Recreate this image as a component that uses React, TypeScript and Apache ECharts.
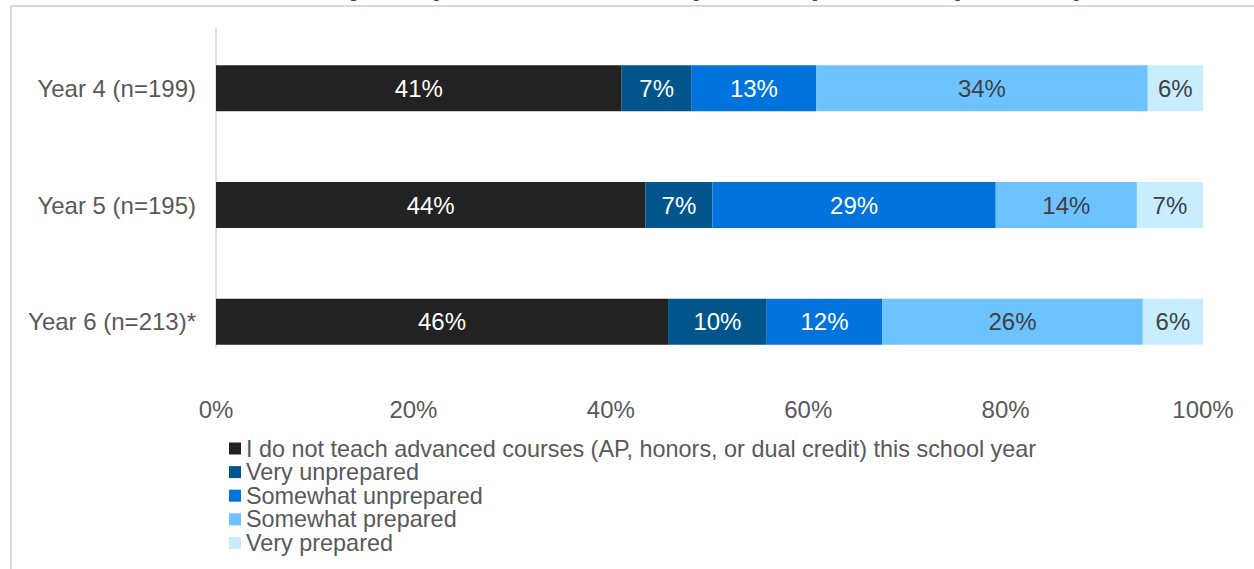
import React, { useEffect, useRef } from "react";
import * as echarts from "echarts";

const categories = ["Year 4 (n=199)", "Year 5 (n=195)", "Year 6 (n=213)*"];
const seriesNames = [
  "I do not teach advanced courses (AP, honors, or dual credit) this school year",
  "Very unprepared",
  "Somewhat unprepared",
  "Somewhat prepared",
  "Very prepared",
];
const notTeaching = [41.1, 43.5, 45.8];
const veryUnprepared = [7.1, 6.8, 10.0];
const somewhatUnprepared = [12.6, 28.7, 11.7];
const somewhatPrepared = [33.6, 14.3, 26.4];
const veryPrepared = [5.6, 6.7, 6.1];
const xTicks = [0, 20, 40, 60, 80, 100];
const titleText =
  "Preparedness to Teach Advanced Courses of All Survey Respondents, Year 4 (2020-21) - Year 6 (2022-23)";

const colors = ["#222222", "#00558c", "#0074dc", "#6cc3ff", "#c8edff"];
const labelColors = ["#ffffff", "#ffffff", "#ffffff", "#404040", "#404040"];
const FONT = "'Liberation Sans', Arial, sans-serif";
const FS = 24;

export default function App() {
  const ref = useRef<HTMLDivElement>(null);
  useEffect(() => {
    if (!ref.current) return;
    const chart = echarts.init(ref.current, undefined, { renderer: "svg" });
    const values = [notTeaching, veryUnprepared, somewhatUnprepared, somewhatPrepared, veryPrepared];
    chart.setOption({
      animation: false,
      textStyle: { fontFamily: FONT },
      grid: { left: 216, right: 51, top: 30, bottom: 189, containLabel: false },
      legend: {
        orient: "vertical",
        left: 229,
        top: 437,
        padding: 0,
        itemGap: 0.6,
        itemWidth: 12,
        itemHeight: 12,
        itemTextGap: 5,
        icon: "rect",
        data: seriesNames,
        textStyle: { fontSize: 23.4, color: "#595959", fontFamily: FONT },
      },
      xAxis: {
        type: "value",
        min: xTicks[0],
        max: xTicks[xTicks.length - 1],
        interval: 20,
        axisLine: { show: false },
        axisTick: { show: false },
        splitLine: { show: false },
        axisLabel: {
          formatter: "{value}%",
          fontSize: FS,
          color: "#595959",
          margin: 17,
          fontFamily: FONT,
        },
      },
      yAxis: {
        type: "category",
        data: categories,
        inverse: true,
        axisLine: { show: false },
        axisTick: { show: false },
        axisLabel: { fontSize: FS, color: "#595959", margin: 20, fontFamily: FONT },
      },
      graphic: [
        {
          type: "rect",
          shape: { x: 11, y: 6, width: 1300, height: 640 },
          style: { fill: "none", stroke: "#d9d9d9", lineWidth: 2 },
          silent: true,
        },
        {
          type: "line",
          shape: { x1: 216, y1: 28, x2: 216, y2: 348 },
          style: { stroke: "#d9d9d9", lineWidth: 1.5 },
          silent: true,
        },
        {
          type: "text",
          x: 1084,
          y: -17,
          style: {
            text: titleText,
            fill: "#0b5a9e",
            font: "bold 31px 'Liberation Sans', Arial, sans-serif",
            align: "right",
            verticalAlign: "middle",
          },
          silent: true,
        },
      ],
      series: seriesNames.map((name, i) => ({
        name,
        type: "bar",
        stack: "total",
        barWidth: 46,
        data: values[i],
        itemStyle: { color: colors[i] },
        label: {
          show: true,
          position: "inside",
          fontSize: FS,
          color: labelColors[i],
          fontFamily: FONT,
          formatter: (p: any) => Math.round(p.value) + "%",
        },
      })),
    });
    return () => chart.dispose();
  }, []);
  return (
    <div
      ref={ref}
      style={{ position: "absolute", left: 0, top: 0, width: 1254, height: 569, background: "#fff" }}
    />
  );
}
